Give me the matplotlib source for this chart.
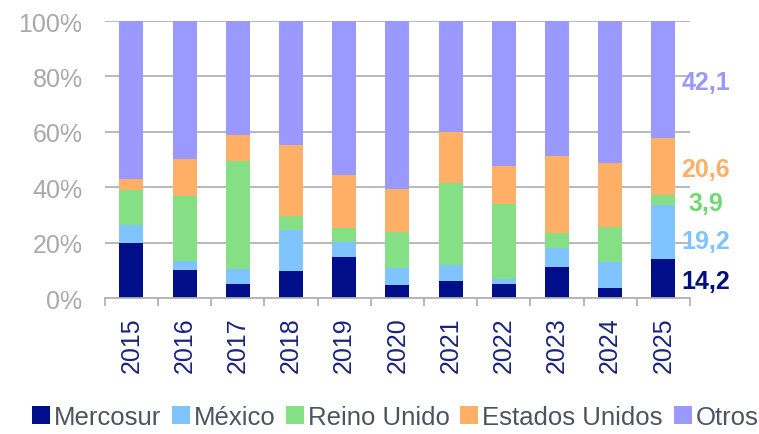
import matplotlib
matplotlib.use("Agg")
import matplotlib.pyplot as plt
import numpy as np
from matplotlib.patches import Patch

# ---- data ----
years = ["2015", "2016", "2017", "2018", "2019", "2020", "2021", "2022", "2023", "2024", "2025"]
mercosur = [20.0, 10.2, 5.1, 9.7, 14.9, 4.7, 6.0, 5.1, 11.2, 3.7, 14.2]
mexico = [6.4, 3.3, 5.4, 15.0, 5.4, 6.0, 6.0, 1.8, 7.0, 9.3, 19.2]
reino_unido = [12.6, 23.4, 39.1, 4.9, 5.1, 13.0, 29.4, 27.0, 5.1, 12.5, 3.9]
estados_unidos = [4.0, 13.2, 9.4, 25.6, 19.1, 15.6, 18.4, 13.9, 27.8, 23.4, 20.6]
otros = [57.0, 49.9, 41.0, 44.8, 55.5, 60.7, 40.2, 52.2, 48.9, 51.1, 42.1]
series_names = ["Mercosur", "México", "Reino Unido", "Estados Unidos", "Otros"]
last_labels = ["14,2", "19,2", "3,9", "20,6", "42,1"]

colors = ["#000E8A", "#80C4FF", "#85E085", "#FFB066", "#9999FF"]
label_colors = ["#001080", "#80C4FF", "#70D870", "#FFB066", "#9999FF"]
label_offsets = [-1.0, -3.2, -1.0, -1.0, -0.9]

plt.rcParams['font.family'] = ['Liberation Sans', 'DejaVu Sans']

fig = plt.figure(figsize=(7.59, 4.35), dpi=100)
ax = fig.add_axes([0.138, 0.3126, 0.771, 0.6368])

x = np.arange(len(years))
series = [mercosur, mexico, reino_unido, estados_unidos, otros]
bottom = np.zeros(len(years))
for vals, c in zip(series, colors):
    ax.bar(x, vals, bottom=bottom, width=0.45, color=c, zorder=3, linewidth=0)
    bottom += np.array(vals)

# value labels for the last bar
bot = 0.0
for vals, lab, lc, off in zip(series, last_labels, label_colors, label_offsets):
    v = vals[-1]
    ax.text(x[-1] + 0.80, bot + v / 2 + off, lab, color=lc, fontsize=18,
            fontweight='bold', ha='center', va='center', clip_on=False)
    bot += v

ax.set_xlim(-0.5, len(years) - 0.5)
ax.set_ylim(0, 100)
ax.set_yticks(np.arange(0, 101, 20))
ax.set_yticklabels([f"{v}%" for v in range(0, 101, 20)])
ax.yaxis.grid(True, color="#B3B3B3", linewidth=1.3, zorder=0)
ax.set_axisbelow(True)

for s in ["top", "right", "left"]:
    ax.spines[s].set_visible(False)
ax.spines["bottom"].set_color("#B3B3B3")
ax.spines["bottom"].set_linewidth(1.3)
ax.spines["bottom"].set_zorder(4)

ax.set_xticks(x)
ax.set_xticklabels(years, rotation=90)
ax.set_xticks(np.arange(-0.5, len(years), 1.0), minor=True)
ax.tick_params(axis='x', which='major', length=0, pad=13, labelsize=18, labelcolor="#1A237E")
ax.tick_params(axis='x', which='minor', length=6, width=1.3, color="#B3B3B3", direction='out')
ax.tick_params(axis='y', which='major', length=0, pad=16, labelsize=18, labelcolor="#A9A9A9")

handles = [Patch(facecolor=c, edgecolor='none') for c in colors]
leg = fig.legend(handles, series_names, loc='center', bbox_to_anchor=(0.5204, 0.039), ncol=5,
                 frameon=False, fontsize=18.5, handlelength=0.7, handleheight=0.65,
                 handletextpad=0.15, columnspacing=0.42, borderpad=0, borderaxespad=0)
for t in leg.get_texts():
    t.set_color("#4D5360")

fig.savefig("out.png", dpi=100)
